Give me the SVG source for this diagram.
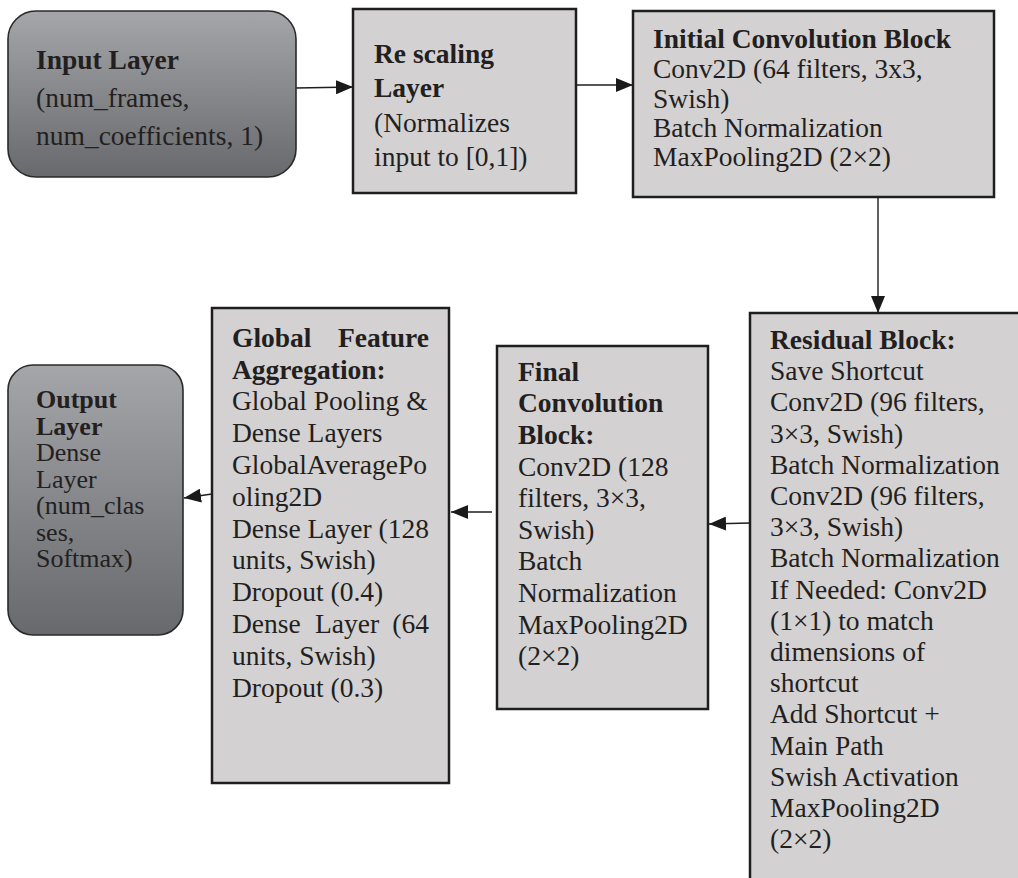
<svg xmlns="http://www.w3.org/2000/svg" width="1018" height="878" viewBox="0 0 1018 878">
<defs>
<linearGradient id="dark" x1="0" y1="0" x2="0" y2="1">
<stop offset="0" stop-color="#a4a6a9"/>
<stop offset="1" stop-color="#67696c"/>
</linearGradient>
<marker id="ah" markerUnits="userSpaceOnUse" markerWidth="18" markerHeight="14" viewBox="0 0 18 14" refX="17" refY="7" orient="auto">
<path d="M0,0 L17,7 L0,14 Z" fill="#1a1a1a"/>
</marker>
<style>
.box{fill:#d3d1d2;stroke:#1e1e1e;stroke-width:2.5}
.rbox{fill:url(#dark);stroke:#2a2a2a;stroke-width:1.6}
text{font-family:"Liberation Serif","Times New Roman",serif;font-size:27.5px;fill:#231f20}
.b{font-weight:bold}
.o{font-size:26px}
.c{fill:none;stroke:#1e1e1e;stroke-width:1.4;marker-end:url(#ah)}
</style>
</defs>
<rect width="1018" height="878" fill="#ffffff"/>
<g id="connectors">
<line class="c" x1="296" y1="88" x2="353" y2="87"/>
<line class="c" x1="576" y1="85" x2="633" y2="85"/>
<line class="c" x1="878" y1="197" x2="878" y2="313"/>
<line class="c" x1="750" y1="523" x2="709" y2="524"/>
<line class="c" x1="492" y1="512" x2="451" y2="512"/>
<line class="c" x1="212" y1="494" x2="184" y2="498"/>
</g>
<g id="input-layer">
<rect class="rbox" x="8" y="11" width="288" height="166" rx="28"/>
<text x="36" y="69" class="b">Input Layer</text>
<text x="36" y="107">(num_frames,</text>
<text x="36" y="145">num_coefficients, 1)</text>
</g>
<g id="rescaling-layer">
<rect class="box" x="353" y="9" width="223" height="184"/>
<text x="374" y="63" class="b">Re scaling</text>
<text x="374" y="97" class="b">Layer</text>
<text x="374" y="132">(Normalizes</text>
<text x="374" y="166">input to [0,1])</text>
</g>
<g id="initial-conv">
<rect class="box" x="633" y="11" width="361" height="186"/>
<text x="653" y="48" class="b">Initial Convolution Block</text>
<text x="653" y="78">Conv2D (64 filters, 3x3,</text>
<text x="653" y="108">Swish)</text>
<text x="653" y="137">Batch Normalization</text>
<text x="653" y="166">MaxPooling2D (2×2)</text>
</g>
<g id="residual-block">
<rect class="box" x="750" y="313" width="290" height="590"/>
<text x="770" y="349" class="b">Residual Block:</text>
<text x="770" y="380">Save Shortcut</text>
<text x="770" y="411">Conv2D (96 filters,</text>
<text x="770" y="443">3×3, Swish)</text>
<text x="770" y="474">Batch Normalization</text>
<text x="770" y="505">Conv2D (96 filters,</text>
<text x="770" y="536">3×3, Swish)</text>
<text x="770" y="567">Batch Normalization</text>
<text x="770" y="599">If Needed: Conv2D</text>
<text x="770" y="630">(1×1) to match</text>
<text x="770" y="661">dimensions of</text>
<text x="770" y="692">shortcut</text>
<text x="770" y="723">Add Shortcut +</text>
<text x="770" y="755">Main Path</text>
<text x="770" y="786">Swish Activation</text>
<text x="770" y="817">MaxPooling2D</text>
<text x="770" y="848">(2×2)</text>
</g>
<g id="final-conv">
<rect class="box" x="497" y="346" width="211" height="363"/>
<text x="518" y="381" class="b">Final</text>
<text x="518" y="412" class="b">Convolution</text>
<text x="518" y="444" class="b">Block:</text>
<text x="518" y="476">Conv2D (128</text>
<text x="518" y="507">filters, 3×3,</text>
<text x="518" y="539">Swish)</text>
<text x="518" y="570">Batch</text>
<text x="518" y="602">Normalization</text>
<text x="518" y="634">MaxPooling2D</text>
<text x="518" y="665">(2×2)</text>
</g>
<g id="global-feature">
<rect class="box" x="212" y="308" width="237" height="475"/>
<text x="232" y="347" class="b">Global</text>
<text x="429" y="347" class="b" text-anchor="end">Feature</text>
<text x="232" y="379" class="b">Aggregation:</text>
<text x="232" y="410">Global Pooling &amp;</text>
<text x="232" y="442">Dense Layers</text>
<text x="232" y="474">GlobalAveragePo</text>
<text x="232" y="506">oling2D</text>
<text x="232" y="538">Dense Layer (128</text>
<text x="232" y="569">units, Swish)</text>
<text x="232" y="601">Dropout (0.4)</text>
<text x="232" y="633">Dense</text>
<text x="315" y="633">Layer</text>
<text x="429" y="633" text-anchor="end">(64</text>
<text x="232" y="665">units, Swish)</text>
<text x="232" y="697">Dropout (0.3)</text>
</g>
<g id="output-layer">
<rect class="rbox" x="8" y="365" width="175" height="270" rx="25"/>
<text x="36" y="408" class="b o">Output</text>
<text x="36" y="434.5" class="b o">Layer</text>
<text x="36" y="461" class="o">Dense</text>
<text x="36" y="487.5" class="o">Layer</text>
<text x="36" y="514" class="o">(num_clas</text>
<text x="36" y="540.5" class="o">ses,</text>
<text x="36" y="567" class="o">Softmax)</text>
</g>
</svg>
